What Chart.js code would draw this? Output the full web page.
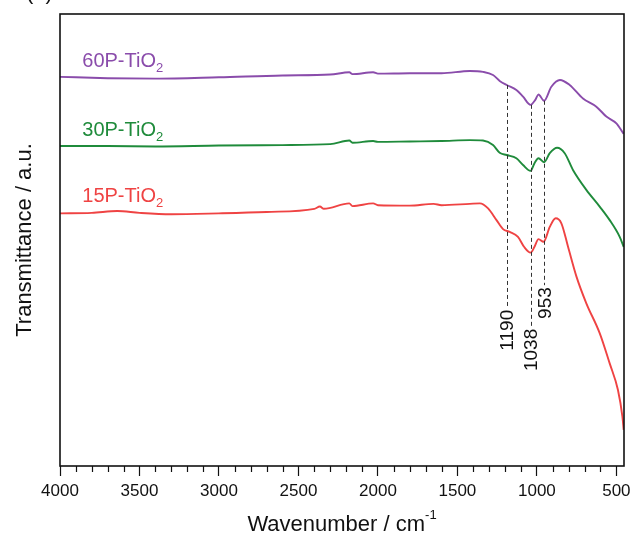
<!DOCTYPE html>
<html>
<head>
<meta charset="utf-8">
<script src="https://cdn.jsdelivr.net/npm/chart.js@4.4.0/dist/chart.umd.min.js"></script>
<style>
  html, body { margin: 0; padding: 0; background: #fff; }
</style>
</head>
<body>
<canvas id="chart" width="633" height="537"></canvas>
<script>
// spectra, wavenumber (cm-1) and transmittance (a.u.)
const wn60 = [4000, 3700, 3400, 3000, 2600, 2300, 2180, 2160, 2030, 2000, 1800, 1600, 1422, 1339, 1276, 1234, 1190, 1129, 1087, 1040, 1010, 990, 955, 909, 855, 794, 710, 626, 563, 500, 455];
const t60 = [86.1, 85.8, 85.7, 86.0, 86.4, 86.6, 87.1, 86.7, 87.1, 86.8, 86.9, 86.9, 87.4, 87.2, 86.5, 85.2, 84.3, 83.2, 81.7, 79.9, 81.0, 82.2, 80.8, 83.9, 85.4, 84.3, 81.3, 79.5, 77.3, 75.8, 73.5];

const wn30 = [4000, 3700, 3400, 3000, 2600, 2300, 2180, 2160, 2030, 2000, 1800, 1600, 1422, 1339, 1276, 1234, 1190, 1129, 1087, 1040, 1015, 990, 955, 919, 873, 825, 773, 689, 605, 542, 479, 454];
const t30 = [70.8, 70.8, 70.7, 70.9, 71.0, 71.2, 72.0, 71.5, 71.9, 71.7, 71.8, 71.9, 72.1, 72.0, 71.0, 69.3, 68.8, 68.1, 66.6, 65.3, 67.0, 68.1, 67.2, 69.2, 70.4, 69.2, 65.5, 61.1, 57.4, 54.4, 50.7, 48.5];

const wn15 = [4000, 3800, 3640, 3500, 3300, 3000, 2700, 2400, 2365, 2340, 2180, 2160, 2030, 2000, 1800, 1650, 1600, 1422, 1359, 1307, 1254, 1213, 1171, 1119, 1081, 1040, 1015, 990, 958, 919, 882, 846, 804, 751, 689, 605, 542, 490, 462, 454];
const t15 = [55.9, 56.0, 56.4, 56.0, 55.7, 55.9, 56.2, 56.9, 57.4, 56.9, 58.1, 57.5, 58.1, 57.7, 57.6, 58.0, 57.7, 58.0, 58.1, 57.0, 54.4, 52.4, 51.8, 50.7, 48.5, 47.2, 48.5, 50.2, 49.6, 52.9, 54.8, 53.7, 48.5, 41.9, 36.0, 29.4, 22.7, 16.8, 10.9, 8.0];

const seriesNames = ["60P-TiO", "30P-TiO", "15P-TiO"];
const seriesColors = ["#8a4cab", "#1f8b3b", "#ef4343"];
const labelWn = [3860, 3860, 3860];
const labelT = [88.3, 73.1, 58.4];

// marked bands: position, top and bottom of the dashed guide
const peakWn = [1190, 1038, 953];
const peakTop = [84.3, 79.9, 80.8];
const peakBottom = [35.0, 30.8, 40.0];

const xTicks = [4000, 3500, 3000, 2500, 2000, 1500, 1000, 500];

const FONT = "'Liberation Sans', Arial, Helvetica, sans-serif";

function pts(xs, ys) {
  return xs.map((x, i) => ({ x: x, y: ys[i] }));
}

const spectra = [pts(wn60, t60), pts(wn30, t30), pts(wn15, t15)];

const extras = {
  id: "extras",
  afterDraw(chart) {
    const ctx = chart.ctx;
    const area = chart.chartArea;
    const xs = chart.scales.x;
    const ys = chart.scales.y;
    ctx.save();

    // minor ticks every 100
    ctx.strokeStyle = "#111";
    ctx.lineWidth = 1.2;
    for (let v = 500; v <= 4000; v += 100) {
      if (v % 500 === 0) continue;
      const px = Math.round(xs.getPixelForValue(v)) + 0.5;
      ctx.beginPath();
      ctx.moveTo(px, area.bottom);
      ctx.lineTo(px, area.bottom + 6);
      ctx.stroke();
    }

    // frame
    ctx.lineWidth = 1.6;
    ctx.strokeRect(area.left, area.top, area.right - area.left, area.bottom - area.top);

    // dashed guides + band labels
    ctx.strokeStyle = "#333";
    ctx.lineWidth = 1;
    ctx.setLineDash([4, 3]);
    peakWn.forEach((w, i) => {
      const px = Math.round(xs.getPixelForValue(w)) + 0.5;
      ctx.beginPath();
      ctx.moveTo(px, ys.getPixelForValue(peakTop[i]));
      ctx.lineTo(px, ys.getPixelForValue(peakBottom[i]));
      ctx.stroke();
    });
    ctx.setLineDash([]);
    ctx.fillStyle = "#111";
    ctx.font = "19px " + FONT;
    ctx.textAlign = "right";
    ctx.textBaseline = "middle";
    peakWn.forEach((w, i) => {
      ctx.save();
      ctx.translate(xs.getPixelForValue(w), ys.getPixelForValue(peakBottom[i]) + 2);
      ctx.rotate(-Math.PI / 2);
      ctx.fillText(String(w), 0, 1);
      ctx.restore();
    });

    // series labels with subscript 2
    ctx.textAlign = "left";
    ctx.textBaseline = "alphabetic";
    seriesNames.forEach((name, i) => {
      const px = xs.getPixelForValue(labelWn[i]);
      const py = ys.getPixelForValue(labelT[i]);
      ctx.fillStyle = seriesColors[i];
      ctx.font = "20px " + FONT;
      ctx.fillText(name, px, py);
      const w = ctx.measureText(name).width;
      ctx.font = "13px " + FONT;
      ctx.fillText("2", px + w, py + 5);
    });

    // x title with superscript
    ctx.fillStyle = "#111";
    const main = "Wavenumber / cm";
    const sup = "-1";
    ctx.font = "22px " + FONT;
    const mw = ctx.measureText(main).width;
    ctx.font = "13px " + FONT;
    const sw = ctx.measureText(sup).width;
    const cx = (area.left + area.right) / 2;
    const x0 = cx - (mw + sw) / 2;
    const by = area.bottom + 65;
    ctx.font = "22px " + FONT;
    ctx.fillText(main, x0, by);
    ctx.font = "13px " + FONT;
    ctx.fillText(sup, x0 + mw, by - 12);

    // panel letter, clipped at the top
    ctx.font = "22px " + FONT;
    ctx.fillText("(a)", 26, -1);

    ctx.restore();
  }
};

new Chart(document.getElementById("chart"), {
  type: "line",
  data: {
    datasets: spectra.map((d, i) => ({
      label: seriesNames[i] + "2",
      data: d,
      borderColor: seriesColors[i],
      borderWidth: 1.9,
      pointRadius: 0,
      fill: false,
      cubicInterpolationMode: "monotone"
    }))
  },
  options: {
    responsive: false,
    maintainAspectRatio: false,
    devicePixelRatio: 1,
    animation: false,
    layout: { padding: { top: 14, right: 9, left: 0, bottom: 0 } },
    plugins: { legend: { display: false }, tooltip: { enabled: false } },
    scales: {
      x: {
        type: "linear",
        reverse: true,
        min: 452,
        max: 4000,
        afterBuildTicks: (s) => { s.ticks = xTicks.map(v => ({ value: v })); },
        afterFit: (s) => { s.height = 71; s.paddingLeft = 0; s.paddingRight = 0; },
        border: { display: false },
        grid: {
          drawOnChartArea: false,
          drawTicks: true,
          tickLength: 10,
          tickWidth: 1.2,
          tickColor: "#111"
        },
        ticks: {
          color: "#111",
          padding: 5,
          maxRotation: 0,
          autoSkip: false,
          font: { family: FONT, size: 17 },
          callback: (v) => String(v)
        }
      },
      y: {
        min: 0,
        max: 100,
        afterFit: (s) => { s.width = 60; s.paddingTop = 0; s.paddingBottom = 0; },
        border: { display: false },
        grid: { display: false },
        ticks: { display: false },
        title: {
          display: true,
          text: "Transmittance / a.u.",
          color: "#111",
          font: { family: FONT, size: 22 },
          padding: { top: 12, bottom: 0 }
        }
      }
    }
  },
  plugins: [extras]
});
</script>
</body>
</html>
